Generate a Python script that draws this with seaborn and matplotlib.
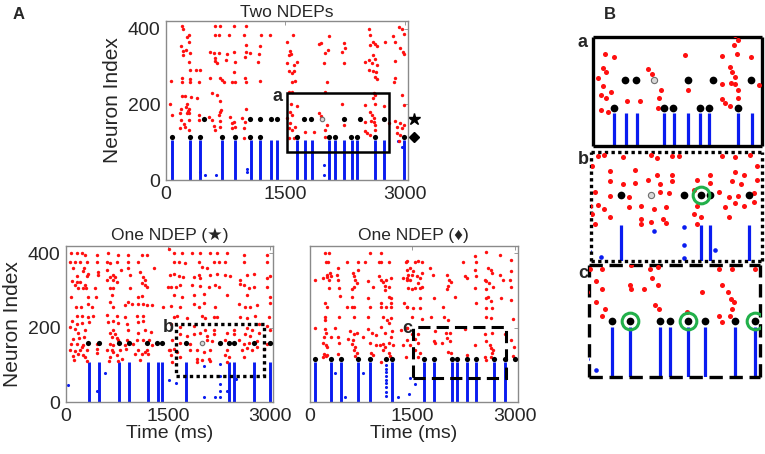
import numpy as np
import pandas as pd
import matplotlib
matplotlib.use("Agg")
import matplotlib.pyplot as plt
import seaborn as sns
from matplotlib.patches import Rectangle

# ---------------- data (time ms, neuron index) ----------------
# Two NDEPs
two_red = [(200,407),(210,400),(620,407),(682,407),(850,407),(1010,407),(284,384),(263,378),(611,382),(661,384),
           (795,382),(976,382),(1194,382),(1303,382),(284,365),(192,354),(1005,356),(1185,354),(209,340),(251,343),
           (297,336),(557,338),(599,336),(661,337),(766,334),(850,338),(1009,338),(1059,336),(1172,334),(209,330),
           (611,323),(620,314),(640,310),(754,316),(871,312),(997,325),(1156,312),(284,312),(305,290),(376,290),
           (431,290),(850,286),(200,270),(305,268),(557,270),(682,270),(703,264),(997,270),(66,261),(200,259),
           (305,258),(410,258),(724,259),(829,259),(871,259),(1009,258),(1185,261),(578,231),(640,224),(200,223),
           (242,223),(318,220),(393,218),(682,209),(263,200),(251,194),(192,189),(293,187),(276,182),(54,202),
           (75,173),(180,178),(263,176),(293,176),(682,180),(695,185),(1005,189),(410,172),(536,167),(661,172),
           (808,167),(955,165),(192,159),(284,159),(410,159),(578,159),(682,156),(829,151),(850,154),(221,147),
           (242,141),(599,144),(682,141),(862,141),(180,137),(284,132),(620,132),(829,137),(997,154),(976,137),
           (984,112),(1059,112),
           (1592,384),(1521,365),(1927,360),(1953,363),(2045,380),(2233,363),(2548,400),(2568,382),(2598,366),
           (2623,360),(2568,356),(2652,354),(2749,365),(2849,380),(2883,365),(2925,404),(2967,400),(2987,387),
           (2946,349),(2975,338),(2995,334),(1563,340),(1575,334),(1550,330),(2036,343),(1994,337),(2212,338),
           (2246,349),(1647,312),(1605,303),(1521,308),(1982,310),(2233,309),(2506,312),(2548,316),(2589,310),
           (2598,330),(2631,321),(2652,303),(2874,314),(1550,287),(1584,284),(1605,287),(2548,290),(2598,287),
           (2640,286),(2623,273),(2652,268),(1626,261),(1584,259),(2024,259),(2883,270),(2862,258),(1542,233),
           (1584,233),(2610,231),(2631,224),(2598,216),(2967,224),(2003,233),(1575,202),(1647,196),(2212,200),
           (2506,198),(2623,202),(2736,196),(2987,198),(1563,179),(1584,172),(1521,163),(1919,178),(1953,170),
           (2568,180),(2589,172),(2610,165),(2506,154),(2581,156),(2610,154),(2631,145),(2799,152),(2883,156),
           (2904,141),(2946,150),(2967,137),(2987,145),(1563,150),(1542,137),(1584,132),(1626,141),(2024,145),
           (2003,132),(2233,145),(2506,130),(2527,123),(2568,119),(2631,132),(2904,123),(2946,119),(1542,112),
           (1605,110),(1751,126),(1856,126),(1994,115),(2925,102)]
two_star = [482, 1060, 1186, 1320, 1395, 1739, 1823, 2233, 2434, 2736]
two_diamond = [75, 306, 432, 704, 863, 1060, 1186, 1647, 2045, 2120, 2330, 2400, 2631, 2990]
two_gray = [(1965, 160)]
two_bars = [75, 305, 431, 703, 866, 1066, 1185, 1323, 1400, 1647, 1745, 1830, 2045, 2125, 2240, 2334,
            2400, 2631, 2742, 2990]
two_blue = [(485,12),(628,12),(432,20),(1017,20),(1017,28),(1982,40),(1982,14),(2916,103),(2967,88)]

# One NDEP (star)
star_red = [(70,400),(168,400),(231,400),(280,396),(451,396),(622,400),(768,396),(915,396),(1110,396),(1183,396),
            (61,378),(134,378),(207,378),(314,378),(451,378),(597,378),(646,375),(744,378),(915,378),(1061,378),
            (109,362),(266,360),(246,353),(475,350),(597,355),(802,355),(915,362),(1085,350),(1290,362),(1525,342),
            (168,339),(305,339),(329,344),(475,342),(646,337),(719,337),(695,342),(939,342),(1134,337),(1159,328),
            (85,326),(158,324),(207,324),(134,315),(280,315),(597,328),(695,328),(744,324),(1110,321),
            (183,306),(256,306),(295,308),(427,306),(646,306),(695,306),(939,306),(1159,315),(1183,310),(1500,310),
            (70,283),(329,283),(441,283),(671,288),(646,270),(915,270),(1061,283),(1110,285),
            (148,256),(217,256),(329,265),(378,256),(695,256),(866,260),(963,265),(1061,265),(1134,265),(1183,260),
            (1256,260),(1417,256),(158,231),(231,231),(329,229),(402,231),(597,233),(744,231),(866,229),(1037,231),
            (1124,231),(85,218),(168,211),(231,213),(344,215),(622,215),(695,218),(768,213),(890,211),(1061,215),
            (1134,218),(61,202),(134,197),(280,195),(183,186),(695,193),(719,184),(646,186),(915,193),(1061,186),
            (1159,195),(1242,188),(109,170),(197,173),(266,175),(671,175),(744,173),(768,166),(890,168),(1037,166),
            (1134,166),(1222,166),(70,157),(168,157),(231,148),(256,153),(451,157),(646,157),(695,153),(866,154),
            (988,157),(1256,153),(61,141),(134,137),(207,139),(305,141),(451,143),(597,141),(671,139),(695,135),
            (793,141),(880,143),(1061,139),(1183,141),(1525,141),(100,123),(183,130),(246,126),(280,121),(451,132),
            (646,121),(744,126),(817,117),(1012,128),(1110,130),(1159,135),(1207,130),(119,112),(314,110),(636,110),
            (768,110),(1085,112),
            (1510,411),(1584,400),(1706,400),(1852,402),(1974,400),(2120,400),(2218,400),(2364,402),(2608,396),
            (2950,396),(1593,378),(1657,378),(1754,373),(1950,378),(1998,364),(2072,362),(2169,378),(2242,378),
            (2340,378),(2608,378),(2950,378),(1584,346),(1657,339),(1720,337),(1876,337),(1950,342),(1974,333),
            (2120,342),(2218,346),(2340,342),(2413,339),(2560,328),(2657,342),(2765,346),(2950,333),(2999,339),
            (1535,310),(1608,310),(1681,315),(1852,315),(1974,312),(2096,310),(2194,315),(2242,310),(2560,319),
            (2608,315),(2682,308),(2755,310),(2950,310),(1584,288),(1706,283),(1876,288),(2023,292),(2364,288),
            (2657,288),(2999,283),(1535,258),(1681,256),(1876,265),(1950,256),(2023,267),(2194,256),(2535,265),
            (2633,256),(2706,256),(2804,260),(2999,267),(1584,229),(1632,231),(1779,227),(1998,231),(2047,225),
            (2169,229),(2218,229),(2560,229),(2657,227),(2779,231),(2974,229),(1535,211),(1681,202),(1876,204),
            (2047,195),(2169,195),(2462,195),(2657,200),(2730,195),(2828,211),(2950,204),(1681,184),(1779,179),
            (1876,182),(1974,186),(2072,179),(2169,184),(2364,186),(2462,182),(2633,184),(2706,179),(2828,186),
            (2999,193),(1559,166),(1681,159),(1828,157),(2072,166),(2145,164),(2340,168),(2535,166),(2608,157),
            (2682,159),(2804,164),(2950,157),(1510,141),(1584,143),(1632,135),(1828,139),(1925,141),(2023,135),
            (2120,139),(2364,141),(2584,139),(2657,146),(2730,141),(2804,148),(2901,143),(1535,126),(1681,121),
            (1925,117),(1998,112),(2096,117),(2340,126),(2389,121),(2608,121),(1559,108),(1925,108),(2120,110),
            (2364,108)]
star_black = [329, 485, 778, 924, 1193, 1339, 1412, 1769, 2257, 2389, 2462, 2765, 2995]
star_gray = [(1998, 160)]
star_bars = [339, 485, 778, 924, 1198, 1344, 1412, 1769, 2389, 2462, 2765, 2995]
star_blue = [(36,47),(573,78),(451,29),(1515,60),(1608,51),(2023,96),(2257,103),(2257,71),(2257,49),(2267,31),
             (2023,13),(2194,13),(2267,13),(2364,31),(2501,62)]

# One NDEP (diamond)
dia_red = [(220,401),(287,401),(877,401),(1044,401),(240,378),(268,376),(541,378),(699,378),(805,378),(1006,378),
           (1044,376),(1150,376),(412,360),(1403,378),(1418,356),(77,329),(192,334),(254,343),(302,347),(254,337),
           (278,329),(316,338),(398,343),(412,329),(637,347),(651,338),(661,329),(709,356),(685,320),(853,325),
           (1006,338),(1044,329),(1068,322),(1092,313),(1116,329),(1188,334),(1356,334),(1418,334),(278,307),
           (431,307),(613,304),(651,310),(924,310),(1164,311),(1092,302),(445,286),(613,283),(853,280),(1164,284),
           (1188,280),(220,266),(254,256),(541,255),(613,257),(651,255),(877,257),(1044,266),(1044,256),(1116,256),
           (1188,266),(1188,256),(1380,266),(1418,257),(220,230),(220,221),(431,229),(651,229),(853,229),(1068,230),
           (1130,220),(1188,226),(1150,212),(1044,203),(77,199),(220,196),(240,187),(374,199),(589,190),(651,184),
           (685,185),(853,196),(910,187),(1102,187),(1198,190),(1332,193),(1418,199),(206,175),(316,176),(412,176),
           (565,169),(637,167),(781,176),(972,181),(1188,176),(192,158),(240,154),(254,149),(422,158),(613,157),
           (661,149),(877,158),(972,154),(1020,154),(1068,157),(1092,149),(1164,158),(1212,154),(1356,154),
           (206,130),(230,124),(192,122),(254,127),(412,130),(651,140),(685,133),(661,124),(901,133),(924,127),
           (1068,139),(1044,109),(1154,133),(1178,124),(1403,122),
           (1414,379),(1536,376),(1584,379),(1633,376),(1755,361),(1463,361),(1512,352),(1439,343),(1487,343),
           (1560,338),(1609,334),(1633,347),(1414,329),(1463,329),(1584,320),(1536,307),(1439,307),(1497,304),
           (1609,307),(1633,311),(1803,343),(1998,343),(2032,329),(2061,322),(2022,313),(1998,304),(2241,376),
           (2265,338),(2289,334),(2411,394),(2435,376),(2411,356),(2425,338),(2420,307),(2581,403),(2605,361),
           (2644,356),(2663,347),(2556,329),(2581,325),(2615,320),(2678,311),(2581,304),(2775,397),(2775,343),
           (2824,329),(2945,383),(2945,352),(2921,329),(2935,311),(1609,280),(1818,280),(2119,284),(2435,266),
           (2581,280),(2605,284),(2654,271),(2799,280),(2945,275),(1414,257),(1512,253),(1609,253),(1949,255),
           (2581,253),(2663,253),(1487,229),(1633,223),(1769,229),(1963,229),(2012,221),(2581,229),(2654,226),
           (2970,223),(1414,199),(1487,184),(1584,184),(1827,190),(1983,185),(2046,187),(2265,196),(2556,184),
           (2663,185),(2848,184),(1414,166),(1463,154),(1536,169),(1584,158),(1818,163),(1827,158),(1934,158),
           (1998,172),(2046,163),(2411,154),(2581,163),(2629,154),(2654,145),(2678,140),(2945,167),(2984,149),
           (1536,140),(1609,131),(1584,122),(2022,136),(2061,131),(2289,127),(2556,122),(2581,113),(2644,122),
           (2663,131),(2970,124)]
dia_black = [77, 311, 450, 709, 877, 1106, 1198, 1667, 1818, 2070, 2153, 2299, 2435, 2688, 2848, 2995]
dia_bars = [77, 311, 450, 709, 877, 1198, 1667, 1818, 2070, 2153, 2299, 2435, 2688, 2848]
dia_blue = [(374,77),(517,13),(781,77),(1284,13),(1106,100),(1106,90),(1106,80),(1106,70),(1106,60),(1106,50),
            (1106,40),(1106,28),(1106,15),(1463,64),(1536,49),(1448,22)]

STAR_ROW = 160
DIAMOND_ROW = 115
BAR_TOP = 107

# green rings in panel B
ring_b = [(2389, STAR_ROW)]
ring_c = [(1818, DIAMOND_ROW), (2299, DIAMOND_ROW), (2848, DIAMOND_ROW)]

sns.set_style("white")
plt.rcParams['font.family'] = ['Liberation Sans', 'DejaVu Sans']


def raster(ax, red, black, gray, bars, blue, big=False):
    k = 2.2 if big else 1.0
    blue_df = pd.DataFrame(blue, columns=["t", "n"])
    ax.vlines(bars, 0, BAR_TOP, color="#0a1cf0", lw=2.3 if big else 2.1, zorder=1)
    sns.scatterplot(data=blue_df, x="t", y="n", ax=ax, color="#0a1cf0", s=5 * k, linewidth=0, zorder=2)
    red_df = pd.DataFrame(red, columns=["t", "n"])
    sns.scatterplot(data=red_df, x="t", y="n", ax=ax, color="#ff1010", s=6 * k, linewidth=0, zorder=3)
    blk = pd.DataFrame(black, columns=["t", "n"])
    sns.scatterplot(data=blk, x="t", y="n", ax=ax, color="black", s=14 * k, linewidth=0, zorder=4)
    for t, n in gray:
        ax.plot(t, n, "o", mfc="#d8d8d8", mec="#6e6e6e", ms=3.2 * (1.4 if big else 1), mew=0.8, zorder=4)
    ax.set_xlabel("")
    ax.set_ylabel("")


def style_main(ax, ylabels=True):
    ax.set_xlim(0, 3040)
    ax.set_ylim(0, 420)
    ax.set_xticks([0, 1500, 3000])
    ax.set_yticks([0, 200, 400])
    if not ylabels:
        ax.set_yticklabels([])
    ax.tick_params(direction="in", length=3, width=0.6, color="#8a8a8a", labelsize=14,
                   top=True, right=True, pad=4)
    for s in ax.spines.values():
        s.set_color("#8a8a8a")
        s.set_linewidth(1.0)


def style_zoom(ax, xlim, ylim, ls):
    ax.set_xlim(*xlim)
    ax.set_ylim(*ylim)
    ax.set_xticks([])
    ax.set_yticks([])
    for s in ax.spines.values():
        s.set_color("black")
        s.set_linewidth(2.4)
        s.set_linestyle(ls)
        s.set_capstyle("butt")


fig = plt.figure(figsize=(7.65, 4.54), dpi=100)

ax1 = fig.add_axes([0.217, 0.6035, 0.316, 0.350])
ax2 = fig.add_axes([0.0863, 0.1145, 0.2706, 0.3436])
ax3 = fig.add_axes([0.405, 0.1145, 0.272, 0.3436])
axa = fig.add_axes([0.775, 0.678, 0.221, 0.240])
axb = fig.add_axes([0.7725, 0.425, 0.2235, 0.240])
axc = fig.add_axes([0.770, 0.1696, 0.2235, 0.2467])

two_black = [(t, STAR_ROW) for t in two_star] + [(t, DIAMOND_ROW) for t in two_diamond]
star_pts = [(t, STAR_ROW) for t in star_black]
dia_pts = [(t, DIAMOND_ROW) for t in dia_black]

# --- panel A ---
raster(ax1, two_red, two_black, two_gray, two_bars, two_blue)
style_main(ax1)
ax1.set_title("Two NDEPs", fontsize=12.5, pad=3)
ax1.set_ylabel("Neuron Index", fontsize=15)
ax1.add_patch(Rectangle((1520, 75), 1287, 156, fill=False, ec="black", lw=1.8, zorder=5))
ax1.text(1470, 222, "a", fontsize=13, fontweight="bold", ha="right", va="center")
ax1.plot([3120], [STAR_ROW], marker="*", ms=9, color="black", clip_on=False)
ax1.plot([3120], [DIAMOND_ROW], marker="D", ms=5.5, color="black", clip_on=False)

raster(ax2, star_red, star_pts, star_gray, star_bars, star_blue)
style_main(ax2)
ax2.set_title("One NDEP (★)", fontsize=12.5, pad=4)
ax2.set_ylabel("Neuron Index", fontsize=15)
ax2.set_xlabel("Time (ms)", fontsize=14, labelpad=0)
ax2.add_patch(Rectangle((1618, 71), 1283, 140, fill=False, ec="black", lw=2.4,
                        ls=(0, (1, 1)), capstyle="butt", zorder=5))
ax2.text(1590, 200, "b", fontsize=13, fontweight="bold", ha="right", va="center")

raster(ax3, dia_red, dia_pts, [], dia_bars, dia_blue)
style_main(ax3, ylabels=False)
ax3.set_title("One NDEP (♦)", fontsize=12.5, pad=4)
ax3.set_xlabel("Time (ms)", fontsize=14, labelpad=0)
ax3.add_patch(Rectangle((1512, 64), 1351, 139, fill=False, ec="black", lw=2.2,
                        ls=(0, (4, 2)), capstyle="butt", zorder=5))
ax3.text(1490, 198, "c", fontsize=13, fontweight="bold", ha="right", va="center")

# --- panel B ---
raster(axa, two_red, two_black, two_gray, two_bars, two_blue, big=True)
style_zoom(axa, (1481, 2823), (55, 228), "solid")

raster(axb, star_red, star_pts, star_gray, star_bars, star_blue, big=True)
style_zoom(axb, (1530, 2870), (43, 236), (0, (1, 1)))
for t, n in ring_b:
    axb.plot(t, n, "o", mfc="none", mec="#22b04a", ms=12, mew=2.2, zorder=6)

raster(axc, dia_red, dia_pts, [], dia_bars, dia_blue, big=True)
style_zoom(axc, (1481, 2892), (40, 190), (0, (4, 2)))
for t, n in ring_c:
    axc.plot(t, n, "o", mfc="none", mec="#22b04a", ms=12, mew=2.2, zorder=6)

fig.text(0.016, 0.967, "A", fontsize=12, fontweight="bold", ha="left", va="center")
fig.text(0.790, 0.967, "B", fontsize=12, fontweight="bold", ha="left", va="center")
fig.text(0.762, 0.907, "a", fontsize=13, fontweight="bold", ha="center", va="center")
fig.text(0.762, 0.648, "b", fontsize=13, fontweight="bold", ha="center", va="center")
fig.text(0.762, 0.398, "c", fontsize=13, fontweight="bold", ha="center", va="center")

fig.savefig("out.png", dpi=100)
